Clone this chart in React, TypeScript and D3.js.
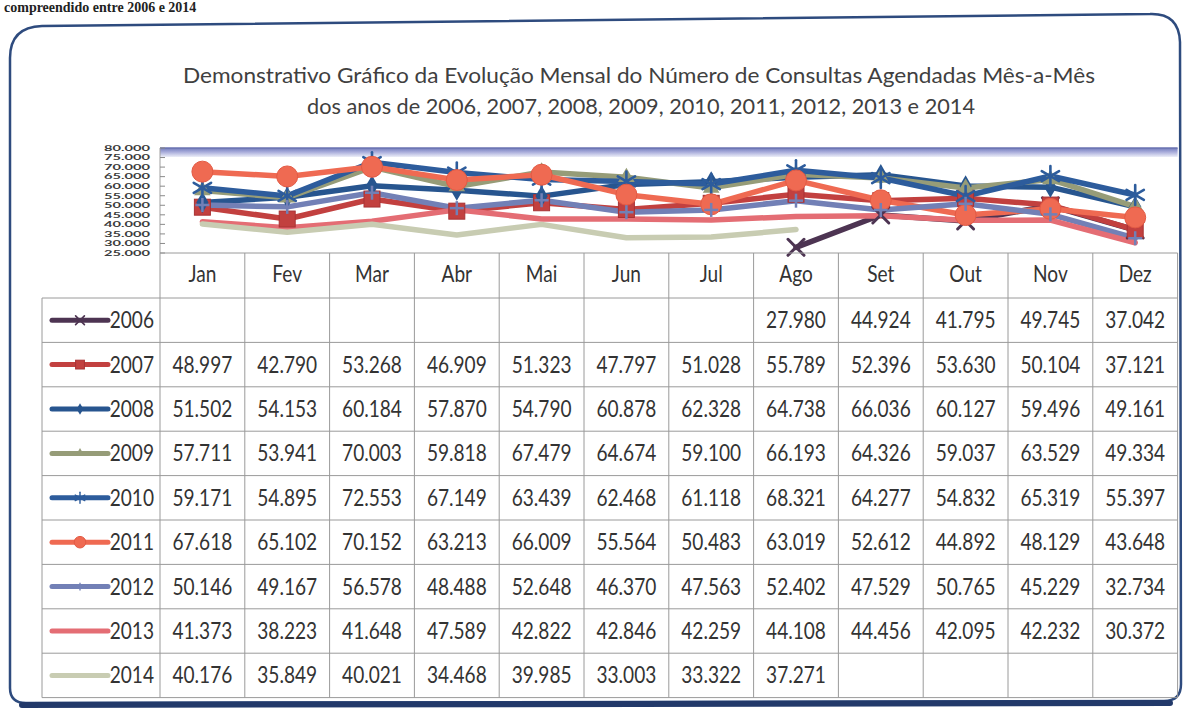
import React from "react";
import * as d3 from "d3";

// ---------- data ----------
const months = ["Jan", "Fev", "Mar", "Abr", "Mai", "Jun", "Jul", "Ago", "Set", "Out", "Nov", "Dez"];
const years = ["2006", "2007", "2008", "2009", "2010", "2011", "2012", "2013", "2014"];

const v2006: (number | null)[] = [null, null, null, null, null, null, null, 27980, 44924, 41795, 49745, 37042];
const v2007: (number | null)[] = [48997, 42790, 53268, 46909, 51323, 47797, 51028, 55789, 52396, 53630, 50104, 37121];
const v2008: (number | null)[] = [51502, 54153, 60184, 57870, 54790, 60878, 62328, 64738, 66036, 60127, 59496, 49161];
const v2009: (number | null)[] = [57711, 53941, 70003, 59818, 67479, 64674, 59100, 66193, 64326, 59037, 63529, 49334];
const v2010: (number | null)[] = [59171, 54895, 72553, 67149, 63439, 62468, 61118, 68321, 64277, 54832, 65319, 55397];
const v2011: (number | null)[] = [67618, 65102, 70152, 63213, 66009, 55564, 50483, 63019, 52612, 44892, 48129, 43648];
const v2012: (number | null)[] = [50146, 49167, 56578, 48488, 52648, 46370, 47563, 52402, 47529, 50765, 45229, 32734];
const v2013: (number | null)[] = [41373, 38223, 41648, 47589, 42822, 42846, 42259, 44108, 44456, 42095, 42232, 30372];
const v2014: (number | null)[] = [40176, 35849, 40021, 34468, 39985, 33003, 33322, 37271, null, null, null, null];

const yTicks = [25000, 30000, 35000, 40000, 45000, 50000, 55000, 60000, 65000, 70000, 75000, 80000];

const titleLine1 = "Demonstrativo Gráfico da Evolução Mensal do Número de Consultas Agendadas Mês-a-Mês";
const titleLine2 = "dos anos de 2006, 2007, 2008, 2009, 2010, 2011, 2012, 2013 e 2014";
const docText = "compreendido entre 2006 e 2014";

const seriesValues = [v2006, v2007, v2008, v2009, v2010, v2011, v2012, v2013, v2014];

// ---------- styles ----------
type Marker = "x" | "square" | "diamond" | "triangle" | "star" | "circle" | "plus" | "none";
const seriesStyle: { color: string; marker: Marker }[] = [
  { color: "#4d3452", marker: "x" },
  { color: "#c2403f", marker: "square" },
  { color: "#27558f", marker: "diamond" },
  { color: "#969c78", marker: "triangle" },
  { color: "#2d5c9c", marker: "star" },
  { color: "#ef6a52", marker: "circle" },
  { color: "#7280b6", marker: "plus" },
  { color: "#e46d74", marker: "none" },
  { color: "#c8ccb2", marker: "none" },
];

const W = 1185;
const H = 714;
const plotLeft = 160;
const colW = 84.8;
const plotTop = 148;
const plotBottom = 253;
const headerBottom = 298;
const rowH = 44.4;
const legendLeft = 42;
const tableRight = plotLeft + months.length * colW;

const fmt = d3.formatLocale({ decimal: ",", thousands: ".", grouping: [3], currency: ["R$", ""] }).format(",d");

const x = d3.scaleBand<string>().domain(months).range([plotLeft, tableRight]);
const y = d3.scaleLinear().domain([25000, 80000]).range([plotBottom, plotTop]);

const line = d3
  .line<number | null>()
  .defined((d) => d != null)
  .x((_, i) => (x(months[i]) as number) + x.bandwidth() / 2)
  .y((d) => y(d as number));

const FONT = "Lato, 'Open Sans', sans-serif";

function MarkerShape({ type, color, cx, cy, s }: { type: Marker; color: string; cx: number; cy: number; s: number }) {
  switch (type) {
    case "x":
      return (
        <g stroke={color} strokeWidth={3 * s} strokeLinecap="round">
          <line x1={cx - 8 * s} y1={cy - 8 * s} x2={cx + 8 * s} y2={cy + 8 * s} />
          <line x1={cx - 8 * s} y1={cy + 8 * s} x2={cx + 8 * s} y2={cy - 8 * s} />
        </g>
      );
    case "square":
      return <rect x={cx - 8 * s} y={cy - 8 * s} width={16 * s} height={16 * s} fill={color} stroke="#a83234" strokeWidth={1} />;
    case "diamond":
      return <path transform={`translate(${cx},${cy})`} d={d3.symbol(d3.symbolDiamond, 130 * s * s)() as string} fill={color} />;
    case "triangle":
      return <path transform={`translate(${cx},${cy})`} d={d3.symbol(d3.symbolTriangle, 120 * s * s)() as string} fill={color} />;
    case "star": {
      const r = 10 * s;
      const angles = [90, 30, 150];
      return (
        <g stroke={color} strokeWidth={2.6 * s} strokeLinecap="round">
          {angles.map((a) => {
            const rad = (a * Math.PI) / 180;
            return (
              <line
                key={a}
                x1={cx - r * Math.cos(rad)}
                y1={cy - r * Math.sin(rad)}
                x2={cx + r * Math.cos(rad)}
                y2={cy + r * Math.sin(rad)}
              />
            );
          })}
        </g>
      );
    }
    case "circle":
      return <circle cx={cx} cy={cy} r={10.5 * s} fill={color} stroke="#e35a44" strokeWidth={1} />;
    case "plus":
      return (
        <g stroke={color} strokeWidth={2.5 * s}>
          <line x1={cx - 7 * s} y1={cy} x2={cx + 7 * s} y2={cy} />
          <line x1={cx} y1={cy - 7 * s} x2={cx} y2={cy + 7 * s} />
        </g>
      );
    default:
      return null;
  }
}

function Cell({ x0, yc, text, anchor = "middle" }: { x0: number; yc: number; text: string; anchor?: string }) {
  return (
    <text
      transform={`translate(${x0},${yc + 8}) scale(0.83,1)`}
      textAnchor={anchor}
      fontFamily={FONT}
      fontSize={23}
      fill="#333333"
    >
      {text}
    </text>
  );
}

export default function App() {
  const gridColor = "#9a9a9a";
  return (
    <svg
      width={W}
      height={H}
      viewBox={`0 0 ${W} ${H}`}
      style={{ position: "absolute", left: 0, top: 0, display: "block", background: "#fff" }}
    >
      <defs>
        <linearGradient id="topBand" x1="0" y1="0" x2="0" y2="1">
          <stop offset="0" stopColor="#737cbd" />
          <stop offset="0.45" stopColor="#a9addb" />
          <stop offset="1" stopColor="#eceef8" />
        </linearGradient>
      </defs>
      <rect width={W} height={H} fill="#ffffff" />

      {/* document text above the card */}
      <text x={4} y={12} fontFamily="'Liberation Serif', serif" fontWeight="bold" fontSize={14} fill="#222">
        {docText}
      </text>

      {/* card frame */}
      <path
        d="M 10,58 Q 10,27 42,26 L 1150,14 Q 1179,13 1180,42 L 1181,684 Q 1181,701 1164,701 L 26,703 Q 10,703 10,688 Z"
        fill="none"
        stroke="#2e4b7e"
        strokeWidth={2.5}
      />
      <line x1={22} y1={705} x2={1170} y2={703} stroke="#22396a" strokeWidth={6} strokeLinecap="round" />

      {/* title */}
      <text x={639} y={83} textAnchor="middle" fontFamily={FONT} fontSize={22} fill="#404040" textLength={912} lengthAdjust="spacingAndGlyphs">
        {titleLine1}
      </text>
      <text x={641} y={114} textAnchor="middle" fontFamily={FONT} fontSize={22} fill="#404040" textLength={668} lengthAdjust="spacingAndGlyphs">
        {titleLine2}
      </text>

      {/* plot area */}
      <rect x={plotLeft} y={plotTop} width={tableRight - plotLeft} height={9} fill="url(#topBand)" />
      <line x1={plotLeft} y1={plotTop} x2={tableRight} y2={plotTop} stroke="#6a72b0" strokeWidth={1.5} />
      <line x1={plotLeft} y1={plotTop} x2={plotLeft} y2={plotBottom} stroke="#a0a0a0" strokeWidth={1} />
      {yTicks.map((t) => (
        <g key={t}>
          <line x1={plotLeft} x2={plotLeft + 5} y1={y(t)} y2={y(t)} stroke="#8a8a8a" strokeWidth={1} />
          <text
            x={150}
            y={y(t) + 2.8}
            textAnchor="end"
            fontFamily={FONT}
            fontSize={7.4}
            fontWeight="bold"
            fill="#3b3b3b"
            textLength={46}
            lengthAdjust="spacingAndGlyphs"
          >
            {fmt(t)}
          </text>
        </g>
      ))}

      {/* series lines */}
      {seriesValues.map((vals, si) => (
        <path
          key={years[si]}
          d={line(vals) as string}
          fill="none"
          stroke={seriesStyle[si].color}
          strokeWidth={5.5}
          strokeLinejoin="round"
          strokeLinecap="round"
        />
      ))}
      {/* markers */}
      {seriesValues.map((vals, si) => (
        <g key={"m" + years[si]}>
          {vals.map((v, i) =>
            v == null ? null : (
              <MarkerShape
                key={i}
                type={seriesStyle[si].marker}
                color={seriesStyle[si].color}
                cx={(x(months[i]) as number) + x.bandwidth() / 2}
                cy={y(v)}
                s={1}
              />
            )
          )}
        </g>
      ))}

      {/* data table grid */}
      <g stroke={gridColor} strokeWidth={1}>
        <line x1={plotLeft} y1={plotBottom} x2={tableRight} y2={plotBottom} />
        {d3.range(months.length + 1).map((i) => (
          <line key={"v" + i} x1={plotLeft + i * colW} x2={plotLeft + i * colW} y1={plotBottom} y2={headerBottom + years.length * rowH} />
        ))}
        <line x1={legendLeft} x2={legendLeft} y1={headerBottom} y2={headerBottom + years.length * rowH} />
        {d3.range(years.length + 1).map((r) => (
          <line key={"h" + r} x1={legendLeft} x2={tableRight} y1={headerBottom + r * rowH} y2={headerBottom + r * rowH} />
        ))}
      </g>

      {/* month headers */}
      {months.map((m) => (
        <Cell key={m} x0={(x(m) as number) + x.bandwidth() / 2} yc={(plotBottom + headerBottom) / 2 - 2} text={m} />
      ))}

      {/* rows */}
      {years.map((yr, si) => {
        const yc = headerBottom + si * rowH + rowH / 2;
        const st = seriesStyle[si];
        return (
          <g key={"row" + yr}>
            <line x1={52} x2={108} y1={yc} y2={yc} stroke={st.color} strokeWidth={5} strokeLinecap="round" />
            <MarkerShape type={st.marker} color={st.color} cx={80} cy={yc} s={0.55} />
            <Cell x0={154} yc={yc} text={yr} anchor="end" />
            {seriesValues[si].map((v, i) =>
              v == null ? null : <Cell key={i} x0={(x(months[i]) as number) + x.bandwidth() / 2} yc={yc} text={fmt(v)} />
            )}
          </g>
        );
      })}
    </svg>
  );
}
